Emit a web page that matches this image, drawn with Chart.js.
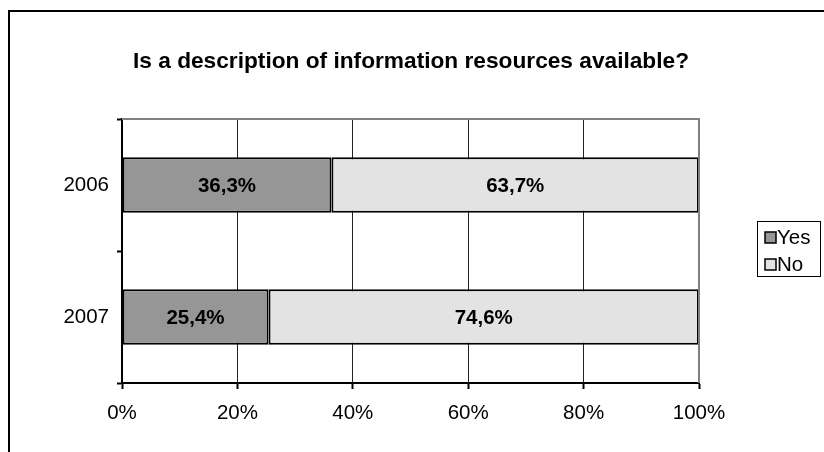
<!DOCTYPE html>
<html>
<head>
<meta charset="utf-8">
<style>
  html, body { margin: 0; padding: 0; background: #fff; }
  #wrap { position: relative; width: 824px; height: 452px; }
</style>
<script src="https://cdn.jsdelivr.net/npm/chart.js@4.4.1/dist/chart.umd.min.js"></script>
</head>
<body>
<div id="wrap"><canvas id="chart" width="824" height="452"></canvas></div>
<script>
const chartTitle = "Is a description of information resources available?"
const years = ["2006", "2007"]
const yesValues = [36.3, 25.4]
const noValues = [63.7, 74.6]
const xTicks = [0, 20, 40, 60, 80, 100]

const FONT = "'Liberation Sans', Arial, sans-serif"

function pct(v) {
    return v.toFixed(1).replace(".", ",") + "%"
}

// frame, title, plot border, value labels and legend box
const excelLook = {
    id: "excelLook",
    beforeDraw(chart) {
        const ctx = chart.ctx
        ctx.save()
        ctx.strokeStyle = "#000"
        ctx.lineWidth = 2
        ctx.beginPath()
        ctx.moveTo(9, 460)
        ctx.lineTo(9, 11)
        ctx.lineTo(830, 11)
        ctx.stroke()

        ctx.fillStyle = "#000"
        ctx.font = "bold 22.7px " + FONT
        ctx.textAlign = "center"
        ctx.textBaseline = "middle"
        ctx.fillText(chartTitle, 411, 62)
        ctx.restore()
    },
    afterDatasetsDraw(chart) {
        const ctx = chart.ctx
        const a = chart.chartArea
        ctx.save()
        ctx.strokeStyle = "#808080"
        ctx.lineWidth = 2
        ctx.beginPath()
        ctx.moveTo(a.left, a.top)
        ctx.lineTo(a.right, a.top)
        ctx.lineTo(a.right, a.bottom)
        ctx.stroke()

        ctx.fillStyle = "#000"
        ctx.font = "bold 20.5px " + FONT
        ctx.textAlign = "center"
        ctx.textBaseline = "middle"
        chart.data.datasets.forEach((ds, i) => {
            chart.getDatasetMeta(i).data.forEach((bar, j) => {
                const p = bar.getCenterPoint()
                ctx.fillText(pct(ds.data[j]), p.x, p.y + 1)
            })
        })

        // legend
        ctx.strokeStyle = "#000"
        ctx.lineWidth = 1
        ctx.strokeRect(757.5, 221.5, 63, 55)
        ctx.font = "20.5px " + FONT
        ctx.textAlign = "left"
        chart.data.datasets.forEach((ds, i) => {
            const y = 237.5 + i * 27
            ctx.fillStyle = ds.backgroundColor
            ctx.fillRect(765, y - 5.5, 11, 11)
            ctx.lineWidth = 1.5
            ctx.strokeRect(765, y - 5.5, 11, 11)
            ctx.fillStyle = "#000"
            ctx.fillText(ds.label, 777, y + 1)
        })
        ctx.restore()
    }
}

new Chart(document.getElementById("chart"), {
    type: "bar",
    data: {
        labels: years,
        datasets: [
            {
                label: "Yes",
                data: yesValues,
                backgroundColor: "#969696",
                borderColor: "#000",
                borderWidth: 2,
                borderSkipped: false
            },
            {
                label: "No",
                data: noValues,
                backgroundColor: "#e3e3e3",
                borderColor: "#000",
                borderWidth: 2,
                borderSkipped: false
            }
        ]
    },
    options: {
        indexAxis: "y",
        responsive: false,
        animation: false,
        layout: { padding: { left: 0, top: 119, right: 125, bottom: 0 } },
        plugins: {
            legend: { display: false },
            title: { display: false },
            tooltip: { enabled: false }
        },
        datasets: {
            bar: { categoryPercentage: 1, barPercentage: 0.42 }
        },
        scales: {
            x: {
                stacked: true,
                min: 0,
                max: 100,
                afterFit(scale) { scale.height = 69 },
                afterBuildTicks(scale) { scale.ticks = xTicks.map(v => ({ value: v })) },
                grid: {
                    color: "#222",
                    lineWidth: 1,
                    tickColor: "#000",
                    tickWidth: 2,
                    tickLength: 6
                },
                border: { color: "#000", width: 2 },
                ticks: {
                    color: "#000",
                    font: { family: FONT, size: 20.5 },
                    padding: 12,
                    callback: v => v + "%"
                }
            },
            y: {
                stacked: true,
                offset: true,
                afterFit(scale) { scale.width = 122 },
                grid: {
                    offset: true,
                    drawOnChartArea: false,
                    tickColor: "#000",
                    tickWidth: 2,
                    tickLength: 5
                },
                border: { color: "#000", width: 2 },
                ticks: {
                    color: "#000",
                    font: { family: FONT, size: 20.5 },
                    padding: 8
                }
            }
        }
    },
    plugins: [excelLook]
})
</script>
</body>
</html>
